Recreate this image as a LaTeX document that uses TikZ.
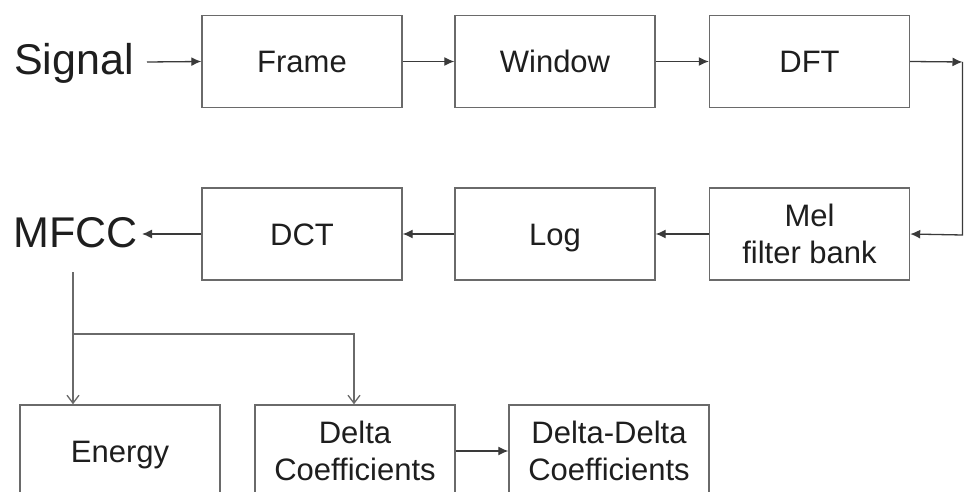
\documentclass[tikz,border=0pt]{standalone}
\usepackage{fontspec}
\setmainfont{Liberation Sans}
\usetikzlibrary{arrows.meta}
\definecolor{boxline}{HTML}{6A6A6A}
\definecolor{wire}{HTML}{3A3A3A}
\definecolor{ink}{HTML}{1E1E1E}
\tikzset{
  stage/.style={draw=boxline, line width=1.4pt, fill=white, minimum width=200pt,
    minimum height=92pt, inner sep=0pt, align=center, text=ink,
    font=\fontsize{31}{37}\selectfont},
  oneline/.style={stage, text height=23pt, text depth=0pt},
  bigword/.style={anchor=base west, inner sep=0pt, text=ink, font=\fontsize{43}{48}\selectfont},
  flow/.style={draw=wire, line width=1.3pt, -{Latex[length=10pt,width=9pt]}},
  branch/.style={draw=boxline, line width=1.3pt, -{Straight Barb[length=8pt,width=12pt]}},
  plain/.style={draw=wire, line width=1.3pt}
}
\begin{document}
\begin{tikzpicture}[x=1pt,y=-1pt]
  \useasboundingbox (0,0) rectangle (964,492);
  \clip (0,0) rectangle (964,492);

  % first row
  \node[bigword] (sig) at (14,75) {Signal};
  \node[oneline] (frame) at (302,61.5) {Frame};
  \node[oneline] (win) at (555,61.5) {Window};
  \node[oneline] (dft) at (809.5,61.5) {DFT};

  % second row
  \node[bigword] (mfcc) at (13,247) {MFCC};
  \node[oneline] (dct) at (302,234) {DCT};
  \node[oneline] (log) at (555,234) {Log};
  \node[stage] (mel) at (809.5,234) {Mel\\filter bank};

  % third row
  \node[oneline] (energy) at (120,451) {Energy};
  \node[stage] (delta) at (355,451) {Delta\\Coefficients};
  \node[stage] (ddelta) at (609,451) {Delta-Delta\\Coefficients};

  % helper points
  \coordinate (sigout) at (147,62);
  \coordinate (mfccin) at (142,234);
  \coordinate (loopA) at (962.5,62);
  \coordinate (loopB) at (962.5,235);
  \coordinate (tap) at (73,272);
  \coordinate (split) at (73,334);
  \coordinate (turn) at (354,334);

  % main chain
  \draw[flow] (sigout) -- (frame.west);
  \draw[flow] (frame.east) -- (win.west);
  \draw[flow] (win.east) -- (dft.west);
  \draw[flow] (dft.east) -- (loopA);
  \draw[flow] (loopA) -- (loopB) -- (mel.east);
  \draw[flow] (mel.west) -- (log.east);
  \draw[flow] (log.west) -- (dct.east);
  \draw[flow] (dct.west) -- (mfccin);

  % feature branches
  \draw[branch] (tap) -- (energy.north -| tap);
  \draw[branch] (split) -- (turn) -- (delta.north -| turn);
  \draw[flow] (delta.east) -- (ddelta.west);
\end{tikzpicture}
\end{document}
